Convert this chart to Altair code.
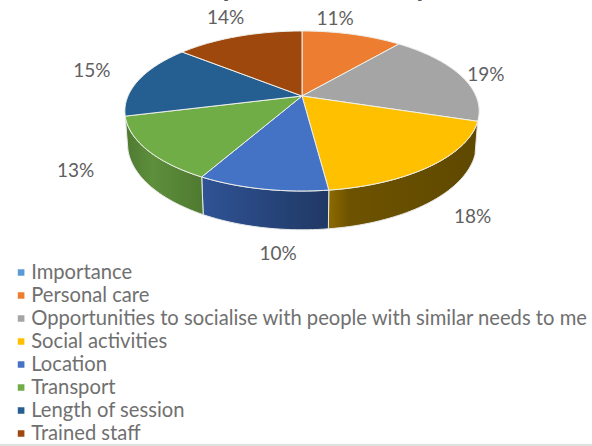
import math

import altair as alt
import pandas as pd

# Survey shares, clockwise from twelve o'clock; "Importance" carries no slice.
categories = ["Importance", "Personal care",
              "Opportunities to socialise with people with similar needs to me",
              "Social activities", "Location", "Transport", "Length of session", "Trained staff"]
shares = [0, 11, 19, 18, 10, 13, 15, 14]
colours = ["#5b9bd5", "#ed7d31", "#a5a5a5", "#ffc000", "#4472c4", "#70ad47", "#255e91", "#9e480e"]
chart_title = "Rated as important in a Day Service"

# Tilted-disc projection
CX, CY = 302, 96
A, B, K = 174.0, 77.2, 0.1875
DEPTH = 31.5

# Pixel nudges of each percentage label away from its slice's rim midpoint
label_nudge = {"Personal care": (-17, -15), "Opportunities to socialise with people with similar needs to me": (25, -1),
               "Social activities": (41, 51), "Location": (16, 65),
               "Transport": (-71, 22), "Length of session": (-47, -9),
               "Trained staff": (-13, -18)}


def project(angle, radius=1.0, drop=0.0):
    u = radius * math.sin(angle)
    v = -radius * math.cos(angle)
    w = 1 - K * v
    shrink = 1 - 0.015 * (drop > 0)
    return [CX + shrink * A * u / w, CY + (B * v + drop) / w]


def arc_points(start, end, drop=0.0):
    steps = max(2, int(abs(end - start) / 1.5) + 1)
    return [project(math.radians(start + (end - start) * i / steps), drop=drop) for i in range(steps + 1)]


def feature(ring, **props):
    return {"type": "Feature", "properties": props,
            "geometry": {"type": "Polygon", "coordinates": [ring + [ring[0]]]}}


tops, walls, labels = [], {}, []
start = 0.0
for name, share in zip(categories, shares):
    end = start + share * 3.6
    if share:
        tops.append(feature([[CX, CY]] + arc_points(start, end), category=name))
        lo, hi = max(start, 100.8), min(end, 258.0)
        if lo < hi and end > 108:
            rim = arc_points(lo, hi)
            walls[name] = feature(rim + arc_points(lo, hi, DEPTH)[::-1], category=name)
        px, py = project(math.radians((start + end) / 2))
        nudge = label_nudge[name]
        labels.append({"px": px + nudge[0], "py": py + nudge[1], "text": f"{share}%"})
    start = end

wall_shades = {
    "Social activities": [(0, "#8d6b00"), (0.14, "#6d5300"), (1, "#5f4800")],
    "Location": [(0, "#2f5395"), (1, "#203864")],
    "Transport": [(0, "#4f7a31"), (0.35, "#5d8f3c"), (1, "#4f7a30")],
}
planar = dict(type="identity", scale=1, translate=[0, 0])

layers = []
for name, stops in wall_shades.items():
    gradient = alt.Gradient(gradient="linear", x1=0, x2=1, y1=0, y2=0,
                            stops=[alt.GradientStop(offset=o, color=c) for o, c in stops])
    layers.append(alt.Chart(alt.Data(values=[walls[name]])).mark_geoshape(
        fill=gradient, stroke="#e8e8e8", strokeWidth=1).project(**planar))

pie_top = alt.Chart(alt.Data(values=tops)).mark_geoshape(
    stroke="#eef0ea", strokeWidth=1).encode(
    color=alt.Color("properties.category:N",
                    scale=alt.Scale(domain=categories, range=colours),
                    sort=None,
                    legend=alt.Legend(orient="none", legendX=11, legendY=261, title=None,
                                      symbolType="square", symbolSize=44, symbolStrokeWidth=0,
                                      labelFont="Lato", labelFontSize=20.2, labelColor="#707070",
                                      labelLimit=600, clipHeight=23, rowPadding=0, labelOffset=0))
).project(**planar)
layers.append(pie_top)

share_labels = alt.Chart(pd.DataFrame(labels)).mark_text(
    font="Lato", fontSize=19, color="#606060").encode(
    x=alt.X("px:Q", scale=None), y=alt.Y("py:Q", scale=None), text="text:N")
layers.append(share_labels)

heading = alt.Chart(pd.DataFrame({"text": [chart_title]})).mark_text(
    font="Lato", fontSize=29, fontWeight="bold", color="#595959", baseline="alphabetic").encode(
    x=alt.value(302), y=alt.value(-4), text="text:N")
layers.append(heading)

edge = alt.Chart(pd.DataFrame({"n": [0]})).mark_rule(color="#d6d6d6", strokeWidth=1.5).encode(
    x=alt.value(0), x2=alt.value(592), y=alt.value(445))
layers.append(edge)

chart = alt.layer(*layers).properties(
    width=592, height=446, padding=0, autosize=alt.AutoSizeParams(type="none"),
    background="white",
).configure_view(stroke=None)

chart.save("out.html", embed_options={"renderer": "svg", "actions": False})
